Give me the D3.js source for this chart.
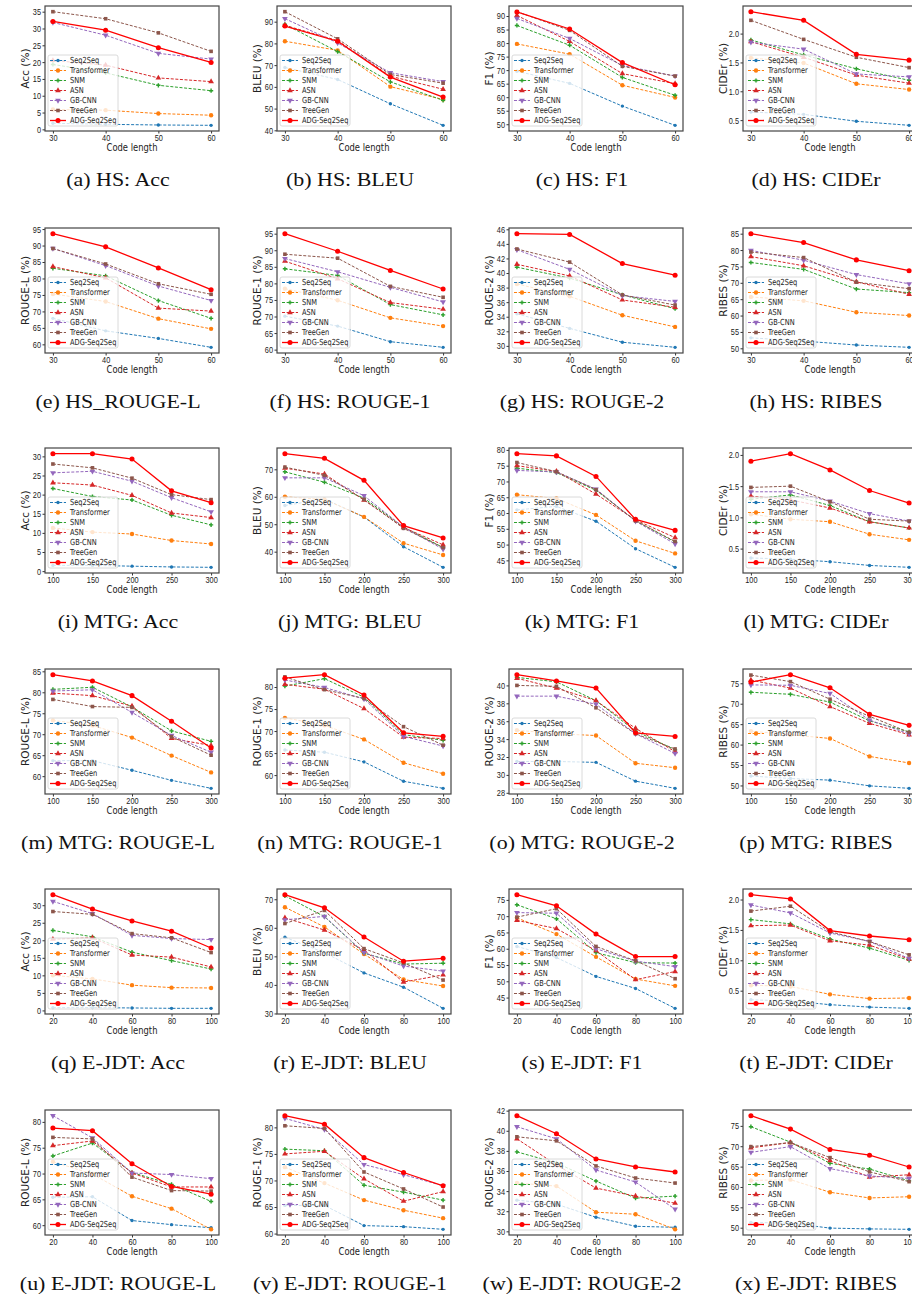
<!DOCTYPE html>
<html>
<head>
<meta charset="utf-8">
<script src="https://cdn.jsdelivr.net/npm/d3@7/dist/d3.min.js"></script>
<style>
  body { margin: 0; background: #fff; }
  svg { display: block; }
</style>
</head>
<body>
<div id="main-chart"></div>
<script>
// series, same order in every panel
var seriesNames = ["Seq2Seq", "Transformer", "SNM", "ASN", "GB-CNN", "TreeGen", "ADG-Seq2Seq"];
var seriesColors = ["#1f77b4", "#ff7f0e", "#2ca02c", "#d62728", "#9467bd", "#8c564b", "#ff0000"];

var hsLengths = [30, 40, 50, 60];
var mtgLengths = [100, 150, 200, 250, 300];
var ejdtLengths = [20, 40, 60, 80, 100];

// ---- HS ----
var hsAcc = [
  [1.8, 1.5, 1.3, 1.2], [5.9, 5.7, 4.7, 4.2], [19.3, 16.8, 13.1, 11.5], [20.5, 19.1, 15.3, 14.2],
  [31.8, 28.0, 22.6, 20.9], [35.0, 32.9, 28.7, 23.2], [32.1, 29.5, 24.3, 19.9]
];
var hsBleu = [
  [68.9, 63.4, 52.2, 42.3], [81.0, 76.8, 60.1, 54.2], [88.8, 76.2, 62.3, 53.8], [88.3, 81.3, 64.9, 58.9],
  [91.4, 80.2, 66.5, 62.4], [94.6, 82.1, 65.7, 61.7], [88.0, 81.0, 64.5, 55.3]
];
var hsF1 = [
  [69.6, 65.1, 56.7, 49.6], [79.7, 75.9, 64.4, 59.9], [86.5, 79.2, 67.3, 60.7], [90.2, 80.6, 68.7, 65.0],
  [89.1, 81.7, 71.7, 67.8], [91.6, 84.7, 71.4, 67.8], [91.5, 85.2, 72.8, 64.6]
];
var hsCider = [
  [0.64, 0.60, 0.48, 0.41], [1.58, 1.49, 1.13, 1.03], [1.89, 1.63, 1.39, 1.19], [1.86, 1.59, 1.28, 1.14],
  [1.85, 1.73, 1.30, 1.25], [2.23, 1.90, 1.59, 1.41], [2.38, 2.23, 1.64, 1.54]
];
var hsRougeL = [
  [67.9, 64.1, 61.8, 59.1], [75.3, 73.0, 67.8, 64.7], [83.1, 80.8, 73.3, 67.9], [83.6, 80.2, 71.0, 70.1],
  [89.1, 83.9, 77.7, 73.3], [89.1, 84.4, 78.4, 75.2], [93.6, 89.6, 83.2, 76.6]
];
var hsRouge1 = [
  [70.1, 67.1, 62.4, 60.7], [78.4, 74.9, 69.6, 67.1], [84.4, 82.4, 73.6, 70.5], [86.7, 81.4, 74.2, 72.2],
  [87.5, 83.5, 78.8, 74.4], [88.8, 87.6, 79.1, 75.8], [95.0, 89.7, 83.9, 78.3]
];
var hsRouge2 = [
  [34.4, 32.4, 30.5, 29.8], [38.5, 36.8, 34.2, 32.6], [40.8, 39.3, 37.0, 35.1], [41.2, 39.6, 36.3, 35.3],
  [43.2, 40.5, 36.9, 36.1], [43.3, 41.5, 37.0, 35.6], [45.4, 45.3, 41.3, 39.7]
];
var hsRibes = [
  [53.2, 52.2, 51.0, 50.3], [65.7, 64.5, 61.0, 60.0], [76.2, 74.1, 68.1, 67.0], [78.0, 75.2, 70.3, 66.5],
  [79.9, 76.9, 72.5, 69.7], [79.4, 77.7, 70.2, 68.2], [85.0, 82.3, 77.0, 73.7]
];

// ---- MTG ----
var mtgAcc = [
  [1.5, 1.5, 1.3, 1.1, 1.0], [11.3, 10.2, 9.7, 8.0, 7.1], [21.6, 19.5, 18.6, 14.6, 12.1],
  [23.1, 22.5, 19.8, 15.2, 14.0], [25.7, 26.1, 23.5, 19.2, 15.5], [28.0, 27.0, 24.3, 20.0, 18.7],
  [30.7, 30.7, 29.3, 21.0, 17.9]
];
var mtgBleu = [
  [56.8, 59.2, 52.6, 41.8, 34.3], [60.0, 59.0, 52.7, 43.1, 38.8], [69.1, 65.3, 59.5, 49.0, 41.5],
  [70.4, 68.3, 58.8, 48.8, 42.5], [66.9, 66.9, 60.4, 48.9, 40.9], [70.8, 67.8, 59.0, 48.5, 41.5],
  [75.7, 74.0, 66.0, 49.5, 45.0]
];
var mtgF1 = [
  [61.0, 62.1, 57.4, 48.7, 42.8], [65.8, 64.6, 59.4, 51.2, 47.2], [74.2, 72.8, 67.2, 57.6, 50.8],
  [75.0, 73.2, 66.0, 57.8, 52.2], [73.5, 73.0, 67.6, 57.4, 50.2], [76.0, 73.1, 67.4, 57.5, 51.0],
  [78.8, 78.1, 71.6, 58.0, 54.5]
];
var mtgCider = [
  [0.35, 0.33, 0.29, 0.23, 0.20], [1.05, 0.97, 0.93, 0.73, 0.64], [1.29, 1.36, 1.19, 0.93, 0.83],
  [1.34, 1.28, 1.15, 0.93, 0.83], [1.41, 1.41, 1.26, 1.06, 0.94], [1.48, 1.50, 1.25, 0.97, 0.94],
  [1.90, 2.02, 1.76, 1.43, 1.23]
];
var mtgRougeL = [
  [63.7, 63.7, 61.4, 59.0, 57.1], [73.3, 72.1, 69.2, 64.9, 60.9], [80.7, 81.2, 76.5, 70.8, 68.3],
  [79.8, 79.2, 76.7, 69.0, 67.3], [80.3, 80.6, 75.2, 69.7, 65.7], [78.3, 76.6, 76.4, 69.4, 65.0],
  [84.2, 82.7, 79.2, 73.1, 66.7]
];
var mtgRouge1 = [
  [65.7, 65.2, 63.0, 58.6, 57.0], [73.0, 71.3, 68.1, 62.8, 60.3], [80.2, 81.9, 77.7, 69.2, 67.9],
  [80.6, 79.5, 75.1, 68.6, 68.3], [81.6, 79.9, 77.3, 68.8, 66.6], [82.3, 79.4, 77.4, 71.0, 66.8],
  [82.0, 82.8, 78.2, 69.6, 68.8]
];
var mtgRouge2 = [
  [31.5, 31.5, 31.4, 29.3, 28.5], [35.0, 34.6, 34.4, 31.3, 30.8], [40.9, 40.4, 38.3, 34.9, 32.8],
  [40.8, 39.7, 38.3, 35.2, 32.6], [38.8, 38.8, 37.9, 34.6, 32.4], [40.0, 39.9, 37.5, 34.6, 32.9],
  [41.2, 40.5, 39.7, 34.7, 34.3]
];
var mtgRibes = [
  [52.3, 51.7, 51.3, 49.9, 49.3], [63.3, 62.4, 61.5, 57.1, 55.5], [72.8, 72.3, 70.4, 65.8, 63.1],
  [75.8, 73.8, 69.3, 65.2, 62.4], [74.6, 74.5, 72.5, 66.0, 62.6], [77.0, 75.4, 71.1, 66.9, 63.0],
  [75.3, 77.1, 73.9, 67.4, 64.7]
];

// ---- E-JDT ----
var ejdtAcc = [
  [0.8, 0.8, 0.7, 0.6, 0.6], [10.0, 9.0, 7.2, 6.5, 6.4], [22.8, 21.0, 16.6, 14.2, 11.8],
  [20.3, 20.7, 15.8, 15.2, 12.4], [31.1, 27.6, 21.4, 20.5, 20.2], [28.2, 27.4, 21.9, 20.7, 16.5],
  [33.0, 28.9, 25.5, 22.6, 17.8]
];
var ejdtBleu = [
  [56.7, 51.3, 44.2, 39.2, 31.8], [67.2, 60.3, 50.8, 41.9, 39.6], [71.2, 63.9, 51.1, 47.3, 47.6],
  [63.5, 59.2, 52.2, 41.0, 43.5], [62.8, 64.0, 51.3, 46.6, 44.8], [61.5, 66.1, 52.7, 47.7, 41.7],
  [71.6, 67.0, 56.8, 48.3, 49.3]
];
var ejdtF1 = [
  [60.7, 57.3, 51.5, 47.8, 41.7], [69.5, 64.5, 57.5, 50.7, 48.6], [73.5, 69.2, 58.8, 55.7, 55.6],
  [68.7, 66.2, 59.4, 50.5, 53.0], [71.1, 70.9, 60.0, 56.2, 54.5], [69.7, 72.3, 60.7, 56.3, 50.8],
  [76.6, 73.2, 64.5, 57.6, 57.6]
];
var ejdtCider = [
  [0.35, 0.33, 0.27, 0.23, 0.21], [0.59, 0.57, 0.44, 0.37, 0.38], [1.67, 1.60, 1.35, 1.20, 1.00],
  [1.57, 1.58, 1.32, 1.25, 1.02], [1.91, 1.78, 1.45, 1.31, 1.03], [1.81, 1.89, 1.47, 1.31, 1.09],
  [2.08, 2.01, 1.49, 1.40, 1.34]
];
var ejdtRougeL = [
  [65.4, 65.5, 60.9, 60.1, 59.5], [72.3, 69.9, 65.6, 63.2, 59.2], [73.4, 75.9, 70.2, 67.9, 64.6],
  [75.4, 76.3, 70.1, 67.4, 67.4], [81.2, 76.9, 70.1, 69.8, 69.0], [77.0, 76.7, 69.3, 66.7, 66.6],
  [78.8, 78.3, 71.9, 67.5, 66.0]
];
var ejdtRouge1 = [
  [65.3, 65.3, 61.5, 61.3, 60.8], [72.5, 69.5, 66.3, 64.4, 62.9], [75.9, 75.6, 69.1, 67.8, 66.3],
  [75.0, 75.5, 70.3, 66.1, 67.9], [81.7, 79.6, 73.0, 71.1, 69.0], [80.3, 79.8, 71.6, 68.4, 65.0],
  [82.2, 80.6, 74.3, 71.5, 69.0]
];
var ejdtRouge2 = [
  [33.1, 32.7, 31.4, 30.5, 30.4], [34.8, 34.5, 31.9, 31.7, 30.2], [37.9, 36.8, 35.0, 33.3, 33.5],
  [39.2, 36.6, 34.3, 33.5, 32.8], [40.4, 39.2, 36.1, 34.9, 32.2], [39.4, 39.0, 36.5, 35.3, 34.8],
  [41.5, 39.7, 37.2, 36.4, 35.9]
];
var ejdtRibes = [
  [51.3, 51.1, 49.9, 49.7, 49.6], [61.6, 61.8, 58.7, 57.3, 57.6], [74.8, 71.0, 65.8, 64.4, 61.5],
  [69.6, 70.9, 66.5, 62.4, 63.0], [68.5, 69.9, 64.5, 62.7, 62.1], [69.9, 70.9, 67.2, 63.7, 61.3],
  [77.5, 74.2, 69.2, 67.8, 64.9]
];

// y tick labels
var ticksAcc35 = [0, 5, 10, 15, 20, 25, 30, 35];
var ticksAcc30 = [0, 5, 10, 15, 20, 25, 30];
var ticksHsBleu = [40, 50, 60, 70, 80, 90];
var ticksHsF1 = [50, 55, 60, 65, 70, 75, 80, 85, 90];
var ticksCider = [0.5, 1.0, 1.5, 2.0];
var ticks60to95 = [60, 65, 70, 75, 80, 85, 90, 95];
var ticksHsRouge2 = [30, 32, 34, 36, 38, 40, 42, 44, 46];
var ticksHsRibes = [50, 55, 60, 65, 70, 75, 80, 85];
var ticksMtgBleu = [40, 50, 60, 70];
var ticksMtgF1 = [45, 50, 55, 60, 65, 70, 75, 80];
var ticks60to85 = [60, 65, 70, 75, 80, 85];
var ticks60to80 = [60, 65, 70, 75, 80];
var ticksMtgRouge2 = [28, 30, 32, 34, 36, 38, 40];
var ticks50to75 = [50, 55, 60, 65, 70, 75];
var ticksEjdtBleu = [30, 40, 50, 60, 70];
var ticksEjdtF1 = [45, 50, 55, 60, 65, 70, 75];
var ticksEjdtRouge2 = [30, 32, 34, 36, 38, 40, 42];

var panels = [
  ["(a) HS: Acc", "Acc (%)", hsLengths, hsAcc, ticksAcc35],
  ["(b) HS: BLEU", "BLEU (%)", hsLengths, hsBleu, ticksHsBleu],
  ["(c) HS: F1", "F1 (%)", hsLengths, hsF1, ticksHsF1],
  ["(d) HS: CIDEr", "CIDEr (%)", hsLengths, hsCider, ticksCider],
  ["(e) HS_ROUGE-L", "ROUGE-L (%)", hsLengths, hsRougeL, ticks60to95],
  ["(f) HS: ROUGE-1", "ROUGE-1 (%)", hsLengths, hsRouge1, ticks60to95],
  ["(g) HS: ROUGE-2", "ROUGE-2 (%)", hsLengths, hsRouge2, ticksHsRouge2],
  ["(h) HS: RIBES", "RIBES (%)", hsLengths, hsRibes, ticksHsRibes],
  ["(i) MTG: Acc", "Acc (%)", mtgLengths, mtgAcc, ticksAcc30],
  ["(j) MTG: BLEU", "BLEU (%)", mtgLengths, mtgBleu, ticksMtgBleu],
  ["(k) MTG: F1", "F1 (%)", mtgLengths, mtgF1, ticksMtgF1],
  ["(l) MTG: CIDEr", "CIDEr (%)", mtgLengths, mtgCider, ticksCider],
  ["(m) MTG: ROUGE-L", "ROUGE-L (%)", mtgLengths, mtgRougeL, ticks60to85],
  ["(n) MTG: ROUGE-1", "ROUGE-1 (%)", mtgLengths, mtgRouge1, ticks60to80],
  ["(o) MTG: ROUGE-2", "ROUGE-2 (%)", mtgLengths, mtgRouge2, ticksMtgRouge2],
  ["(p) MTG: RIBES", "RIBES (%)", mtgLengths, mtgRibes, ticks50to75],
  ["(q) E-JDT: Acc", "Acc (%)", ejdtLengths, ejdtAcc, ticksAcc30],
  ["(r) E-JDT: BLEU", "BLEU (%)", ejdtLengths, ejdtBleu, ticksEjdtBleu],
  ["(s) E-JDT: F1", "F1 (%)", ejdtLengths, ejdtF1, ticksEjdtF1],
  ["(t) E-JDT: CIDEr", "CIDEr (%)", ejdtLengths, ejdtCider, ticksCider],
  ["(u) E-JDT: ROUGE-L", "ROUGE-L (%)", ejdtLengths, ejdtRougeL, ticks60to80],
  ["(v) E-JDT: ROUGE-1", "ROUGE-1 (%)", ejdtLengths, ejdtRouge1, ticks60to80],
  ["(w) E-JDT: ROUGE-2", "ROUGE-2 (%)", ejdtLengths, ejdtRouge2, ticksEjdtRouge2],
  ["(x) E-JDT: RIBES", "RIBES (%)", ejdtLengths, ejdtRibes, ticks50to75]
];

// layout
var colLeft = [45, 277, 509, 743];
var rowTop = [6, 228, 448, 669, 889, 1110];
var plotW = 174, plotH = 125;
var squeeze = 0.8; // the source figure is squashed sideways

var svg = d3.select("#main-chart")
  .append("svg")
  .attr("width", 912)
  .attr("height", 1300)
  .style("font-family", "'DejaVu Sans', sans-serif");

svg.append("rect").attr("width", 912).attr("height", 1300).attr("fill", "#fff");

function marker(sel, i) {
  var sym;
  if (i === 0) sym = d3.symbol(d3.symbolCircle, 9);
  else if (i === 1) sym = d3.symbol(d3.symbolCircle, 15);
  else if (i === 2) sym = d3.symbol(d3.symbolCross, 10);
  else if (i === 3 || i === 4) sym = d3.symbol(d3.symbolTriangle, 14);
  else if (i === 5) sym = d3.symbol(d3.symbolSquare, 13);
  else sym = d3.symbol(d3.symbolCircle, 20);
  sel.attr("d", sym).attr("fill", seriesColors[i]);
  if (i === 4) sel.attr("transform", function() {
    return d3.select(this).attr("transform") + " rotate(180)";
  });
}

panels.forEach(function(p, k) {
  var left = colLeft[k % 4], top = rowTop[Math.floor(k / 4)];
  var xs = p[2], vals = p[3];
  var g = svg.append("g").attr("transform", "translate(" + left + "," + top + ")");

  var xr = d3.extent(xs), xpad = (xr[1] - xr[0]) * 0.05;
  var x = d3.scaleLinear().domain([xr[0] - xpad, xr[1] + xpad]).range([0, plotW]);
  var yr = d3.extent(d3.merge(vals)), ypad = (yr[1] - yr[0]) * 0.05;
  var y = d3.scaleLinear().domain([yr[0] - ypad, yr[1] + ypad]).range([plotH, 0]);

  var fmt = p[4][0] % 1 !== 0 ? d3.format(".1f") : d3.format("d");

  var xAxis = g.append("g").attr("transform", "translate(0," + plotH + ")")
    .call(d3.axisBottom(x).tickValues(xs).tickSize(2.5).tickPadding(0.5).tickFormat(d3.format("d")));
  var yAxis = g.append("g")
    .call(d3.axisLeft(y).tickValues(p[4]).tickSize(2.5).tickPadding(1).tickFormat(fmt));
  [xAxis, yAxis].forEach(function(a) {
    a.select(".domain").remove();
    a.selectAll("line").attr("stroke", "#333");
    a.selectAll("text").attr("fill", "#222").style("font-size", "9.2px");
  });
  xAxis.selectAll("text").attr("transform", "scale(" + squeeze + ",1)");
  yAxis.selectAll("text").attr("x", 0).attr("transform", "translate(-4,0) scale(" + squeeze + ",1)");

  // series lines
  var line = d3.line().x(function(d, j) { return x(xs[j]); }).y(function(d) { return y(d); });
  vals.forEach(function(v, i) {
    var last = i === vals.length - 1;
    g.append("path")
      .attr("d", line(v))
      .attr("fill", "none")
      .attr("stroke", seriesColors[i])
      .attr("stroke-width", last ? 1.3 : 1)
      .attr("stroke-dasharray", last ? null : "3,1.6");
    g.selectAll(null).data(v).enter().append("path")
      .attr("transform", function(d, j) { return "translate(" + x(xs[j]) + "," + y(d) + ")"; })
      .each(function() { marker(d3.select(this), i); });
  });

  // legend, lower left
  var lw = 70, lh = 71, lx = 3, ly = plotH - 5 - lh;
  var leg = g.append("g").attr("transform", "translate(" + lx + "," + ly + ")");
  leg.append("rect").attr("width", lw).attr("height", lh).attr("rx", 2)
    .attr("fill", "#fff").attr("fill-opacity", 0.8)
    .attr("stroke", "#d0d0d0").attr("stroke-width", 0.8);
  seriesNames.forEach(function(name, i) {
    var ey = 5.5 + i * 10;
    var last = i === seriesNames.length - 1;
    leg.append("line").attr("x1", 2).attr("x2", 18).attr("y1", ey).attr("y2", ey)
      .attr("stroke", seriesColors[i]).attr("stroke-width", last ? 1.3 : 1)
      .attr("stroke-dasharray", last ? null : "3,1.6");
    leg.append("path").attr("transform", "translate(10," + ey + ")")
      .each(function() { marker(d3.select(this), i); });
    leg.append("text").attr("transform", "translate(22," + ey + ") scale(" + squeeze + ",1)")
      .attr("dy", "0.35em").style("font-size", "8.3px").attr("fill", "#222").text(name);
  });

  // frame
  g.append("rect").attr("width", plotW).attr("height", plotH)
    .attr("fill", "none").attr("stroke", "#444").attr("stroke-width", 1.2);

  // axis titles
  g.append("text")
    .attr("transform", "translate(" + (plotW / 2) + "," + (plotH + 20) + ") scale(" + squeeze + ",1)")
    .attr("text-anchor", "middle").style("font-size", "10.5px").attr("fill", "#222")
    .text("Code length");
  g.append("text")
    .attr("transform", "translate(-20," + (plotH / 2) + ") rotate(-90)")
    .attr("text-anchor", "middle").attr("dy", "0.35em").style("font-size", "10.5px").attr("fill", "#222")
    .text(p[1]);

  // caption
  g.append("text")
    .attr("transform", "translate(73," + (plotH + 55) + ") scale(1.22,1)")
    .attr("text-anchor", "middle")
    .style("font-family", "'Liberation Serif', serif").style("font-size", "18px").attr("fill", "#111")
    .text(p[0]);
});
</script>
</body>
</html>
